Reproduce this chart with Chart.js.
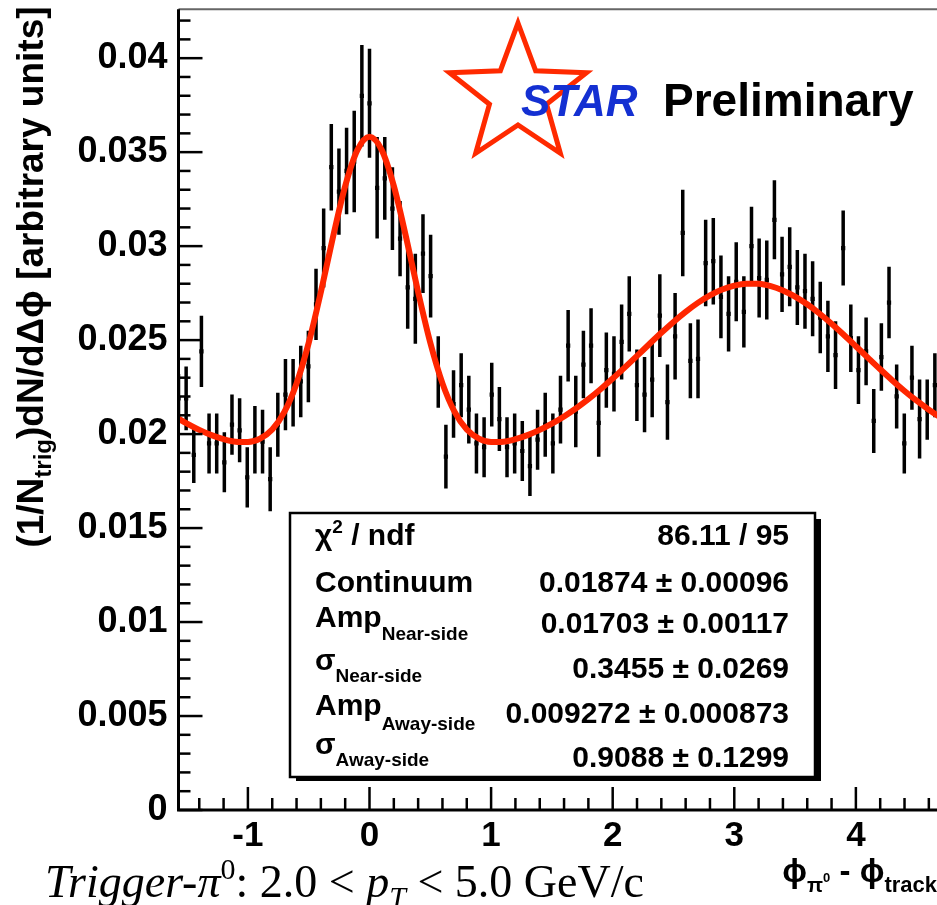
<!DOCTYPE html>
<html>
<head>
<meta charset="utf-8">
<script src="https://cdn.jsdelivr.net/npm/chart.js@4.4.1/dist/chart.umd.min.js"></script>
<style>
  html, body { margin: 0; padding: 0; background: #fff; overflow: hidden; }
  #wrap { position: absolute; left: 0; top: 0; width: 950px; height: 905px; }
</style>
</head>
<body>
<div id="wrap"><canvas id="corr" width="950" height="905"></canvas></div>
<script>
// azimuthal correlation, pi0 trigger vs charged tracks
const PHI_MIN = -Math.PI / 2;
const PHI_MAX = 3 * Math.PI / 2;
const BIN_WIDTH = 2 * Math.PI / 100;

// per-bin yield (1/Ntrig dN/dphi) and its statistical error
const yieldVals = [
  0.0219, 0.0219, 0.0189, 0.0244, 0.0195, 0.0195, 0.0185, 0.0205, 0.0202, 0.0177,
  0.0197, 0.0196, 0.0176, 0.0205, 0.0221, 0.0222, 0.0228, 0.0236, 0.0269, 0.0299,
  0.0342, 0.0329, 0.0340, 0.0345, 0.0380, 0.0376, 0.0331, 0.0336, 0.0320, 0.0304,
  0.0278, 0.0272, 0.0296, 0.0284, 0.0233, 0.0188, 0.0216, 0.0226, 0.0213, 0.0195,
  0.0193, 0.0221, 0.0208, 0.0193, 0.0195, 0.0191, 0.0183, 0.0197, 0.0205, 0.0195,
  0.0213, 0.0247, 0.0212, 0.0237, 0.0247, 0.0206, 0.0234, 0.0232, 0.0249, 0.0264,
  0.0226, 0.0221, 0.0229, 0.0263, 0.0217, 0.0252, 0.0307, 0.0239, 0.0240, 0.0291,
  0.0292, 0.0273, 0.0264, 0.0281, 0.0265, 0.0300, 0.0283, 0.0282, 0.0314, 0.0285,
  0.0289, 0.0278, 0.0276, 0.0272, 0.0262, 0.0252, 0.0242, 0.0299, 0.0251, 0.0234,
  0.0244, 0.0207, 0.0241, 0.0270, 0.0220, 0.0195, 0.0230, 0.0208, 0.0213, 0.0226
];
const yieldErrs = [
  0.0013, 0.0017, 0.0015, 0.0019, 0.0016, 0.0016, 0.0016, 0.0016, 0.0017, 0.0016,
  0.0018, 0.0017, 0.0017, 0.0017, 0.0019, 0.0018, 0.0019, 0.0019, 0.0019, 0.0021,
  0.0023, 0.0023, 0.0023, 0.0027, 0.0027, 0.0029, 0.0027, 0.0022, 0.0022, 0.0020,
  0.0022, 0.0024, 0.0021, 0.0022, 0.0019, 0.0017, 0.0018, 0.0017, 0.0018, 0.0016,
  0.0016, 0.0017, 0.0017, 0.0016, 0.0016, 0.0016, 0.0016, 0.0016, 0.0017, 0.0016,
  0.0018, 0.0019, 0.0019, 0.0018, 0.0020, 0.0018, 0.0020, 0.0020, 0.0020, 0.0020,
  0.0019, 0.0020, 0.0020, 0.0022, 0.0020, 0.0023, 0.0023, 0.0020, 0.0021, 0.0023,
  0.0023, 0.0022, 0.0020, 0.0021, 0.0019, 0.0021, 0.0021, 0.0021, 0.0021, 0.0020,
  0.0021, 0.0020, 0.0020, 0.0020, 0.0019, 0.0019, 0.0018, 0.0020, 0.0018, 0.0018,
  0.0018, 0.0017, 0.0018, 0.0019, 0.0017, 0.0016, 0.0017, 0.0021, 0.0016, 0.0017
];

// fitted curve (continuum + near/away gaussians), sampled along dphi
const fitPhi = [
  -1.5708, -1.5, -1.4, -1.3, -1.2, -1.1, -1.0, -0.9, -0.8, -0.7, -0.6, -0.5, -0.4, -0.3, -0.2, -0.1,
  0.0, 0.1, 0.2, 0.3, 0.4, 0.5, 0.6, 0.7, 0.8, 0.9, 1.0, 1.1, 1.2, 1.3, 1.4, 1.5,
  1.6, 1.7, 1.8, 1.9, 2.0, 2.1, 2.2, 2.3, 2.4, 2.5, 2.6, 2.7, 2.8, 2.9, 3.0, 3.1,
  3.2, 3.3, 3.4, 3.5, 3.6, 3.7, 3.8, 3.9, 4.0, 4.1, 4.2, 4.3, 4.4, 4.5, 4.6, 4.7, 4.7124
];
const fitVals = [
  0.020823, 0.020556, 0.020223, 0.019944, 0.019727, 0.019591, 0.019575, 0.019756, 0.020242, 0.021178,
  0.022696, 0.024853, 0.027551, 0.030492, 0.033192, 0.035105,
  0.035817, 0.035121, 0.033203, 0.030499, 0.027556, 0.024856, 0.022698, 0.021179, 0.020243, 0.019757,
  0.019575, 0.019591, 0.019727, 0.019944, 0.020223, 0.020556,
  0.020939, 0.021375, 0.021859, 0.022387, 0.022952, 0.023548, 0.024161, 0.024779, 0.025387, 0.025967,
  0.026503, 0.026980, 0.027380, 0.027690, 0.027900, 0.028002,
  0.027993, 0.027872, 0.027645, 0.027318, 0.026904, 0.026417, 0.025872, 0.025286, 0.024675, 0.024057,
  0.023446, 0.022855, 0.022295, 0.021774, 0.021299, 0.020871, 0.020822
];

// fit result box
const statLabels = [
  [['\u03C7', 30, 0], ['2', 19, -12], [' / ndf', 30, 0]],
  [['Continuum', 30, 0]],
  [['Amp', 30, 0], ['Near-side', 19, 13]],
  [['\u03C3', 30, -6], ['Near-side', 19, 6]],
  [['Amp', 30, 0], ['Away-side', 19, 15]],
  [['\u03C3', 30, -8], ['Away-side', 19, 4]]
];
const statValues = [
  '86.11 / 95',
  '0.01874 \u00B1 0.00096',
  '0.01703 \u00B1 0.00117',
  '0.3455 \u00B1 0.0269',
  '0.009272 \u00B1 0.000873',
  '0.9088 \u00B1 0.1299'
];
const statLabelBase = [545, 592, 627, 676, 715, 762];
const statValueBase = [545, 592, 633, 678, 723, 767];

const yTickLabels = ['0', '0.005', '0.01', '0.015', '0.02', '0.025', '0.03', '0.035', '0.04'];

const binCenters = yieldVals.map((_, i) => PHI_MIN + i * BIN_WIDTH);

const SANS = '"Liberation Sans", Arial, sans-serif';
const SERIF = '"Liberation Serif", "Times New Roman", serif';

function bold(size) { return 'bold ' + size + 'px ' + SANS; }

// draws a run of text pieces [text, font, dy] one after another
function drawRun(ctx, x, y, parts, align) {
  let w = 0;
  parts.forEach(p => { ctx.font = p[1]; w += ctx.measureText(p[0]).width; });
  let cx = x;
  if (align === 'right') cx = x - w;
  if (align === 'center') cx = x - w / 2;
  parts.forEach(p => {
    ctx.font = p[1];
    ctx.fillText(p[0], cx, y + (p[2] || 0));
    cx += ctx.measureText(p[0]).width;
  });
}

const errorBars = {
  id: 'errorBars',
  beforeDatasetsDraw(chart) {
    const { ctx, chartArea: a, scales: { x, y } } = chart;
    ctx.save();
    ctx.beginPath();
    ctx.rect(a.left, a.top, a.right - a.left, a.bottom - a.top);
    ctx.clip();
    ctx.strokeStyle = '#000';
    ctx.lineWidth = 3.5;
    binCenters.forEach((phi, i) => {
      const px = x.getPixelForValue(phi);
      ctx.beginPath();
      ctx.moveTo(px, y.getPixelForValue(yieldVals[i] - yieldErrs[i]));
      ctx.lineTo(px, y.getPixelForValue(yieldVals[i] + yieldErrs[i]));
      ctx.stroke();
    });
    ctx.restore();
  }
};

const decorations = {
  id: 'decorations',
  afterDraw(chart) {
    const { ctx, chartArea: a, scales: { x, y } } = chart;
    ctx.save();

    // frame
    ctx.strokeStyle = '#666';
    ctx.lineWidth = 2;
    ctx.beginPath();
    ctx.moveTo(a.left, a.top); ctx.lineTo(a.right, a.top);
    ctx.stroke();
    ctx.strokeStyle = '#000';
    ctx.lineWidth = 3;
    ctx.beginPath();
    ctx.moveTo(a.left, a.top); ctx.lineTo(a.left, a.bottom); ctx.lineTo(a.right, a.bottom);
    ctx.stroke();

    // inward ticks
    ctx.lineWidth = 2.5;
    for (let k = 0; k <= 42; k++) {
      const py = y.getPixelForValue(k * 0.001);
      const len = k % 5 === 0 ? 24 : 12;
      ctx.beginPath(); ctx.moveTo(a.left, py); ctx.lineTo(a.left + len, py); ctx.stroke();
    }
    for (let k = -7; k <= 23; k++) {
      const px = x.getPixelForValue(k * 0.2);
      const len = k % 5 === 0 ? 23 : 12;
      ctx.beginPath(); ctx.moveTo(px, a.bottom); ctx.lineTo(px, a.bottom - len); ctx.stroke();
    }

    // y axis title
    ctx.fillStyle = '#000';
    ctx.textBaseline = 'alphabetic';
    ctx.save();
    ctx.translate(43, 277);
    ctx.rotate(-Math.PI / 2);
    drawRun(ctx, 0, 0, [
      ['(1/N', bold(37), 0], ['trig', bold(24), 8], [')dN/d\u0394\u03D5 [arbitrary units]', bold(37), 0]
    ], 'center');
    ctx.restore();

    // x axis title
    drawRun(ctx, 937, 882, [
      ['\u03D5', bold(33), 0], ['\u03C0', bold(21), 10], ['0', bold(13), 0], [' - \u03D5', bold(33), 0], ['track', bold(22), 10]
    ], 'right');

    // trigger caption
    drawRun(ctx, 45, 897, [
      ['Trigger-\u03C0', 'italic 46px ' + SERIF, 0], ['0', '30px ' + SERIF, -18],
      [': 2.0 < ', '46px ' + SERIF, 0], ['p', 'italic 46px ' + SERIF, 0],
      ['T', 'italic 30px ' + SERIF, 10], [' < 5.0 GeV/c', '46px ' + SERIF, 0]
    ], 'left');

    // fit result box
    ctx.fillStyle = '#000';
    ctx.fillRect(296, 519, 525, 262);
    ctx.fillStyle = '#fff';
    ctx.fillRect(290, 513, 525, 264);
    ctx.strokeStyle = '#000';
    ctx.lineWidth = 2.5;
    ctx.strokeRect(290, 513, 525, 264);
    ctx.fillStyle = '#000';
    statLabels.forEach((row, i) => {
      drawRun(ctx, 315, statLabelBase[i], row.map(p => [p[0], bold(p[1]), p[2]]), 'left');
      ctx.font = bold(30);
      ctx.textAlign = 'right';
      ctx.fillText(statValues[i], 789, statValueBase[i]);
      ctx.textAlign = 'left';
    });

    // STAR Preliminary logo
    const cx = 518, cy = 95, R = 72, r = 30;
    ctx.beginPath();
    for (let k = 0; k < 10; k++) {
      const ang = -Math.PI / 2 + k * Math.PI / 5;
      const rr = k % 2 === 0 ? R : r;
      const px = cx + rr * Math.cos(ang), py = cy + rr * Math.sin(ang);
      if (k === 0) ctx.moveTo(px, py); else ctx.lineTo(px, py);
    }
    ctx.closePath();
    ctx.fillStyle = '#fff';
    ctx.fill();
    ctx.strokeStyle = '#ff2a00';
    ctx.lineWidth = 5;
    ctx.lineJoin = 'miter';
    ctx.stroke();
    ctx.fillStyle = '#1430d2';
    ctx.font = 'italic bold 44px ' + SANS;
    ctx.fillText('STAR', 521, 116);
    ctx.fillStyle = '#000';
    ctx.font = bold(46);
    ctx.fillText('Preliminary', 663, 116);

    ctx.restore();
  }
};

new Chart(document.getElementById('corr'), {
  type: 'scatter',
  data: {
    datasets: [
      {
        label: 'data',
        data: binCenters.map((phi, i) => ({ x: phi, y: yieldVals[i] })),
        pointStyle: 'rect',
        pointRadius: 3,
        backgroundColor: '#000',
        borderColor: '#000',
        borderWidth: 0,
        order: 2
      },
      {
        type: 'line',
        label: 'fit',
        data: fitPhi.map((phi, i) => ({ x: phi, y: fitVals[i] })),
        borderColor: '#ff2600',
        borderWidth: 6,
        pointRadius: 0,
        cubicInterpolationMode: 'monotone',
        fill: false,
        order: 1
      }
    ]
  },
  options: {
    responsive: false,
    animation: false,
    events: [],
    layout: { autoPadding: false, padding: { top: 9.3, right: 7.5, left: 0, bottom: 0 } },
    plugins: { legend: { display: false }, tooltip: { enabled: false } },
    scales: {
      x: {
        type: 'linear',
        min: PHI_MIN,
        max: PHI_MAX,
        afterFit: s => { s.height = 95; s.paddingLeft = 0; s.paddingRight = 0; },
        grid: { display: false, drawTicks: false },
        border: { display: false },
        ticks: {
          stepSize: 1,
          includeBounds: false,
          autoSkip: false,
          maxRotation: 0,
          padding: 5,
          color: '#000',
          font: { family: SANS, weight: 'bold', size: 35 },
          callback: v => String(v)
        }
      },
      y: {
        min: 0,
        max: 0.0426,
        afterFit: s => { s.width = 178.5; s.paddingTop = 0; s.paddingBottom = 0; },
        grid: { display: false, drawTicks: false },
        border: { display: false },
        ticks: {
          stepSize: 0.005,
          includeBounds: false,
          autoSkip: false,
          padding: 11,
          color: '#000',
          font: { family: SANS, weight: 'bold', size: 36 },
          callback: (v, i) => yTickLabels[i]
        }
      }
    }
  },
  plugins: [errorBars, decorations]
});
</script>
</body>
</html>
